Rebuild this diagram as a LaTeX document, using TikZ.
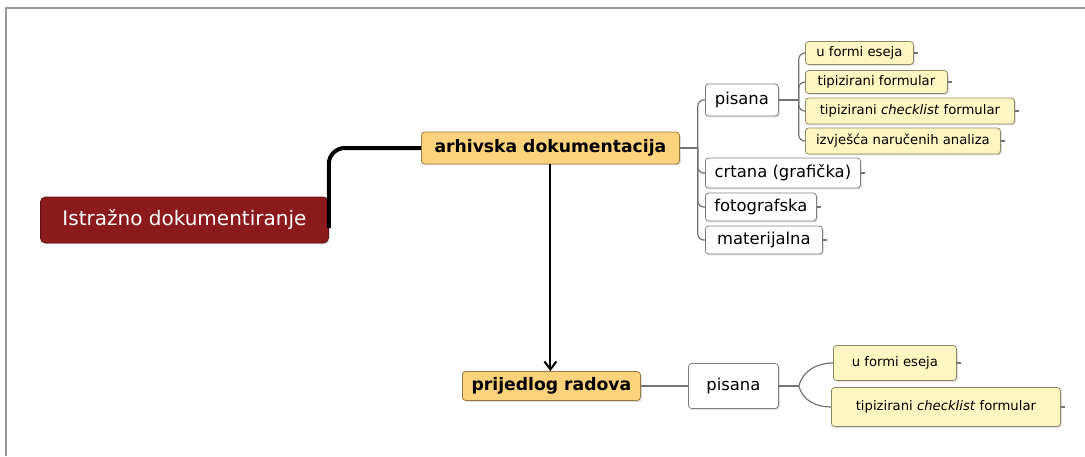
\documentclass[tikz,border=0pt]{standalone}
\usepackage{fontspec}
\setmainfont{DejaVu Sans}
\usetikzlibrary{arrows.meta,shadows}
\definecolor{rootred}{HTML}{8C1A1C}
\definecolor{orangefill}{HTML}{FCD27C}
\definecolor{orangeline}{HTML}{9A7A3A}
\definecolor{paleyellow}{HTML}{FFF6C2}
\definecolor{yellowline}{HTML}{8E8A66}
\begin{document}
\begin{tikzpicture}[x=0.5pt,y=-0.5pt,
    box/.style={draw,rounded corners=1.6pt,anchor=west,inner sep=0pt,
        drop shadow={shadow xshift=0.7pt,shadow yshift=-0.7pt,opacity=0.25}},
    rootbox/.style={box,fill=rootred,draw=rootred!70!black,text=white,rounded corners=2.5pt,font=\fontsize{10}{12}\selectfont},
    mainbox/.style={box,fill=orangefill,draw=orangeline,font=\bfseries\fontsize{8.6}{10}\selectfont},
    plainbox/.style={box,fill=white,draw=gray,font=\fontsize{8.2}{10}\selectfont},
    notebox/.style={box,fill=paleyellow,draw=yellowline,font=\fontsize{6.6}{8}\selectfont},
    link/.style={draw=gray!90!black,line width=0.6pt},
    trunk/.style={line width=2pt,rounded corners=8pt}]
\useasboundingbox (0,0) rectangle (1085,456);
\draw[gray!80,line width=1pt] (6,456) -- (6,8) -- (1085,8);

\node[rootbox,minimum width=144pt,minimum height=23pt] (root) at (40,220) {Istražno dokumentiranje};
\node[mainbox,minimum width=129pt,minimum height=16pt] (arh) at (421,148) {arhivska dokumentacija};
\node[mainbox,minimum width=89pt,minimum height=14.5pt] (prij) at (462,386) {prijedlog radova};

% grana arhivske dokumentacije
\node[plainbox,minimum width=36.5pt,minimum height=16pt] (pis1) at (705,100) {pisana};
\node[plainbox,minimum width=77.5pt,minimum height=15pt] (crt) at (705,173) {crtana (grafička)};
\node[plainbox,minimum width=55.5pt,minimum height=14pt] (fot) at (705,207) {fotografska};
\node[plainbox,minimum width=58.5pt,minimum height=14pt] (mat) at (705,240) {materijalna};
\node[notebox,minimum width=54pt,minimum height=11.5pt] (ufe1) at (805,53) {u formi eseja};
\node[notebox,minimum width=71pt,minimum height=11.5pt] (tf) at (805,82) {tipizirani formular};
\node[notebox,minimum width=104.5pt,minimum height=13pt] (tcf1) at (805,111) {tipizirani \textit{checklist} formular};
\node[notebox,minimum width=97.5pt,minimum height=13pt] (izv) at (805,141) {izvješća naručenih analiza};

% grana prijedloga radova
\node[plainbox,minimum width=45pt,minimum height=22.5pt] (pis2) at (688,386) {pisana};
\node[notebox,minimum width=61.5pt,minimum height=17.5pt] (ufe2) at (833,363) {u formi eseja};
\node[notebox,minimum width=114.5pt,minimum height=19.5pt] (tcf2) at (831,407) {tipizirani \textit{checklist} formular};

\draw[trunk] ([yshift=-4pt]root.east) |- (arh.west);
\draw[line width=1pt,-{Straight Barb[length=4pt,width=6pt]}] (arh.south) -- (arh.south |- prij.north);

\draw[link] (arh.east) -- ++(18,0) coordinate (ja);
\foreach \n in {pis1,crt,fot,mat}
    \draw[link,rounded corners=3pt] (ja) |- (\n.west);
\draw[link] (pis1.east) -- ++(20,0) coordinate (jp);
\foreach \n in {ufe1,tf,tcf1,izv}
    \draw[link,rounded corners=3pt] (jp) |- (\n.west);
\draw[link] (prij) -- (pis2);
\draw[link] (pis2.east) -- ++(20,0) coordinate (jq);
\draw[link] (jq) to[out=75,in=180] (ufe2.west);
\draw[link] (jq) to[out=-75,in=180] (tcf2.west);

\foreach \n in {crt,fot,mat,ufe1,tf,tcf1,izv,ufe2,tcf2}
    \draw[link] (\n.east) -- ++(4,0);
\end{tikzpicture}
\end{document}
